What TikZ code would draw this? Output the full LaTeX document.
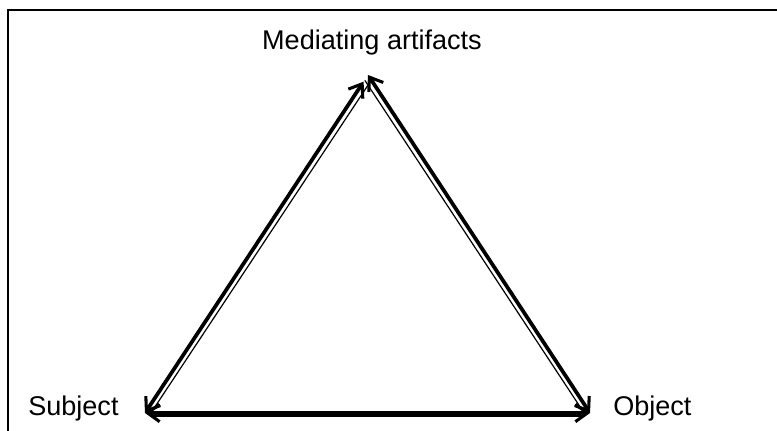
\documentclass[tikz,border=0pt]{standalone}
\usepackage{fontspec}
\setmainfont{Liberation Sans}
\usetikzlibrary{arrows.meta}
\begin{document}
\begin{tikzpicture}[x=0.75pt,y=-0.75pt,
  lbl/.style={font=\fontsize{20.3pt}{24pt}\selectfont, inner sep=0pt},
  barb/.tip={Straight Barb[length=9pt,width=13pt,line width=2.3pt]},
  thickedge/.style={line width=2.8pt, barb-barb},
  thinedge/.style={line width=0.9pt},
  frameline/.style={line width=1.6pt}]
\useasboundingbox (0,0) rectangle (777,431);
\fill[white] (0,0) rectangle (777,431);
\draw[frameline] (777,10) -- (8,10) -- (8,431);
\coordinate (A) at (368,75);
\coordinate (S) at (145,413);
\coordinate (O) at (590,413);
\node[lbl, anchor=base] (med) at (372,50) {Mediating artifacts};
\node[lbl, anchor=base west] (subj) at (28,415) {Subject};
\node[lbl, anchor=base west] (obj) at (613,415) {Object};
\draw[thickedge, shorten >=6pt] (S) -- (A);
\draw[thickedge] (A) -- (O);
\draw[thickedge] (S) -- (O);
\draw[thinedge, transform canvas={xshift=2.4pt}] ([xshift=2pt]S) -- ([yshift=-4pt]A);
\draw[thinedge, transform canvas={xshift=-2.4pt}] ([yshift=-4pt]A) -- ([xshift=-2pt]O);
\draw[thinedge, transform canvas={yshift=-2.2pt}] ([xshift=6pt]S) -- ([xshift=-6pt]O);
\end{tikzpicture}
\end{document}
